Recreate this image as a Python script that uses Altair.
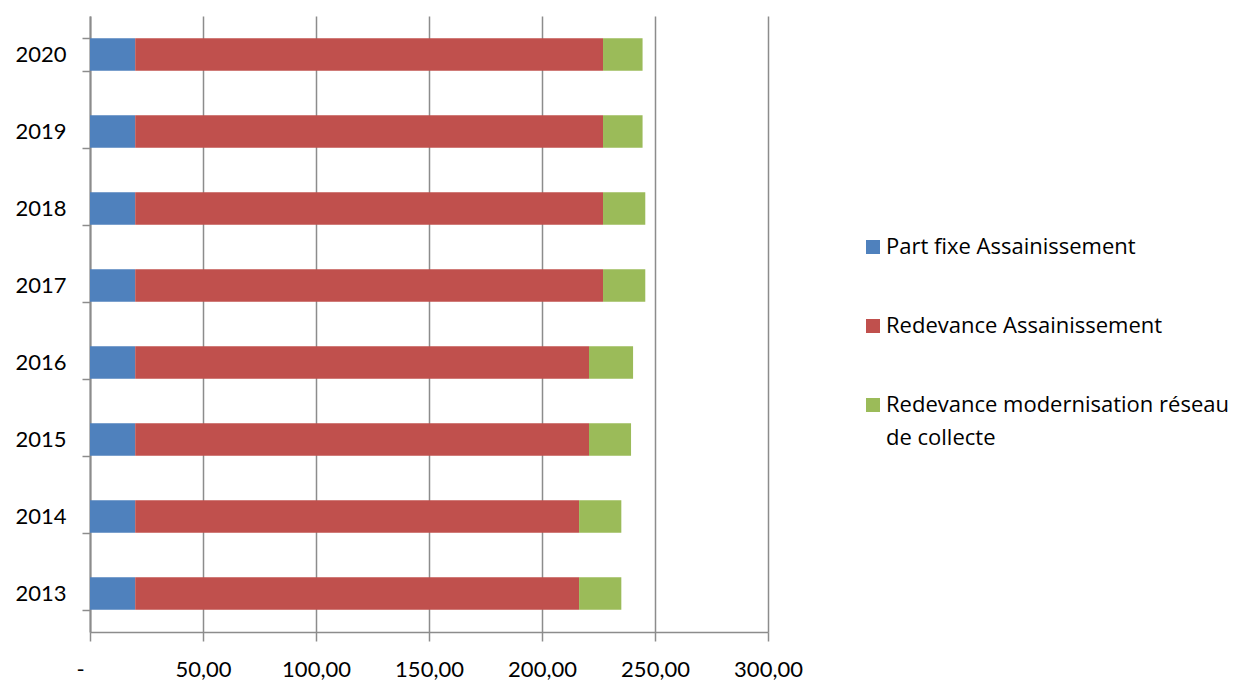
import altair as alt
import pandas as pd

years = ["2013", "2014", "2015", "2016", "2017", "2018", "2019", "2020"]
part_fixe = [20.0, 20.0, 20.0, 20.0, 20.0, 20.0, 20.0, 20.0]
redevance = [196.4, 196.4, 200.8, 200.8, 207.0, 207.0, 207.0, 207.0]
modernisation = [18.7, 18.7, 18.6, 19.5, 18.7, 18.7, 17.5, 17.5]

series = [
    "Part fixe Assainissement",
    "Redevance Assainissement",
    "Redevance modernisation réseau de collecte",
]
colors = ["#4F81BD", "#C0504D", "#9BBB59"]
x_ticks = [0, 50, 100, 150, 200, 250, 300]

rows = []
for i, y in enumerate(years):
    for k, (name, vals) in enumerate(zip(series, [part_fixe, redevance, modernisation])):
        rows.append({"year": y, "series": name, "value": vals[i], "order": k})
df = pd.DataFrame(rows)

FONT = "Lato"
LEGEND_FONT = "Open Sans"
GRID = "#8c8c8c"

chart = (
    alt.Chart(df)
    .mark_bar(strokeWidth=0)
    .encode(
        y=alt.Y(
            "year:N",
            sort="descending",
            title=None,
            scale=alt.Scale(paddingInner=0.58, paddingOuter=0.29),
            axis=alt.Axis(
                tickBand="extent",
                tickSize=8,
                tickColor=GRID,
                tickWidth=1.5,
                domainColor=GRID,
                domainWidth=2,
                labelFont=FONT,
                labelFontSize=22,
                labelColor="#000000",
                labelPadding=16,
                grid=False,
            ),
        ),
        x=alt.X(
            "value:Q",
            stack="zero",
            title=None,
            scale=alt.Scale(domain=[0, 300], nice=False),
            axis=alt.Axis(
                values=x_ticks,
                labelExpr="datum.value == 0 ? '-' : replace(format(datum.value, '.2f'), '.', ',')",
                labelFlush=False,
                labelOffset={"condition": {"test": "datum.value == 0", "value": -10}, "value": 0},
                grid=True,
                gridColor=GRID,
                gridWidth=1.5,
                tickSize=9,
                tickColor=GRID,
                tickWidth=1.5,
                domainColor=GRID,
                domainWidth=1.5,
                labelFont=FONT,
                labelFontSize=22,
                labelColor="#000000",
                labelPadding=18,
            ),
        ),
        color=alt.Color(
            "series:N",
            sort=series,
            scale=alt.Scale(domain=series, range=colors),
            legend=alt.Legend(
                title=None,
                orient="none",
                legendX=772,
                legendY=220,
                padding=0,
                symbolType="square",
                symbolSize=196,
                symbolStrokeWidth=0,
                labelFont=LEGEND_FONT,
                labelFontSize=22,
                labelColor="#000000",
                labelOffset=2,
                labelLimit=500,
                rowPadding=57,
                labelExpr="indexof(datum.label, 'collecte') >= 0 ? ['Redevance modernisation réseau', 'de collecte'] : datum.label",
            ),
        ),
        order=alt.Order("order:Q", sort="ascending"),
    )
    .properties(
        width=678,
        height=616,
        autosize=alt.AutoSizeParams(type="none"),
        padding={"left": 82, "top": 8, "right": 472, "bottom": 48},
    )
    .configure(style={"guide-label": {"lineHeight": 33}})
    .configure_view(stroke=None)
)

chart.save("out.html", embed_options={"renderer": "svg", "actions": False})
